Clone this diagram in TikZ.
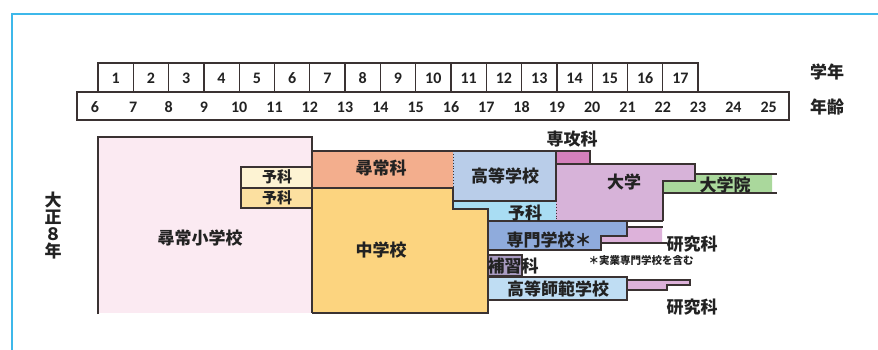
\documentclass[tikz,border=0pt]{standalone}
\usepackage{fontspec}
\newfontfamily\jp{Noto Sans CJK JP}
\newfontfamily\num{Carlito}
\usetikzlibrary{calc}
\definecolor{frameblue}{HTML}{3DB8EA}
\definecolor{linec}{HTML}{3A3232}
\definecolor{cPink}{HTML}{FBEAF2}
\definecolor{cYokaA}{HTML}{FDF3D3}
\definecolor{cYokaB}{HTML}{FCE0A0}
\definecolor{cJinjo}{HTML}{F3AE8D}
\definecolor{cChu}{HTML}{FCD47F}
\definecolor{cKoto}{HTML}{B9CDE9}
\definecolor{cYokaBlue}{HTML}{A9DDF3}
\definecolor{cDai}{HTML}{D7B3D9}
\definecolor{cSenko}{HTML}{D580BC}
\definecolor{cIn}{HTML}{AAD89C}
\definecolor{cSenmon}{HTML}{8FABDC}
\definecolor{cHoshu}{HTML}{A99BC2}
\definecolor{cShihan}{HTML}{BFDDF3}
\definecolor{cKen}{HTML}{DDB2DA}
\definecolor{txt}{HTML}{222222}
\tikzset{
  ln/.style={draw=linec,line width=1.3pt,line join=miter},
  dotln/.style={draw=linec,line width=0.9pt,dotted},
  numlbl/.style={font=\num\bfseries\fontsize{16}{16}\selectfont,text=txt,inner sep=0pt},
  jplbl/.style={font=\jp\bfseries\fontsize{17}{17}\selectfont,text=txt,inner sep=0pt},
  jpsmall/.style={font=\jp\bfseries\fontsize{15}{15}\selectfont,text=txt,inner sep=0pt},
  jptiny/.style={font=\jp\bfseries\fontsize{10.5}{10.5}\selectfont,text=txt,inner sep=0pt},
}
\begin{document}
\begin{tikzpicture}[x=1pt,y=-1pt]
\useasboundingbox (0,0) rectangle (878,350);
\fill[white] (0,0) rectangle (878,350);
% frame
\draw[frameblue,line width=2.4pt] (12,350) -- (12,14) -- (878,14);

% ---------- year / age scale ----------
\foreach \i in {1,...,17}{
  \draw[ln] ({98+35.3*(\i-1)},63) rectangle ({98+35.3*\i},92);
  \node[numlbl] (g\i) at ({98+35.3*(\i-0.5)},78) {\i};
}
\draw[ln] (77,92) rectangle (789,120);
\node[numlbl] (a6) at (95,107) {6};
\foreach \n in {7,...,25}{
  \node[numlbl] (a\n) at ({98+35.3*(\n-6)},107) {\n};
}
\node[jplbl] (gakunen) at (827,72) {学年};
\node[jplbl] (nenrei) at (827,107) {年齢};

% ---------- fills ----------
\fill[cPink] (98,137) rectangle (312,313);
\fill[cYokaA] (241,167) rectangle (312,188);
\fill[cYokaB] (241,188) rectangle (312,208);
\fill[cJinjo] (312,151) rectangle (453,188);
\fill[cChu] (312,188) -- (453,188) -- (453,209) -- (488,209) -- (488,313) -- (312,313) -- cycle;
\fill[cKoto] (453,151) rectangle (556,201);
\fill[cYokaBlue] (453,201) -- (556,201) -- (556,221) -- (488,221) -- (488,209) -- (453,209) -- cycle;
\fill[cSenko] (556,151) rectangle (590,164);
\fill[cDai] (556,164) -- (695,164) -- (695,181) -- (663,181) -- (663,221) -- (556,221) -- cycle;
\fill[cIn] (695,174) -- (772,174) -- (772,193) -- (663,193) -- (663,181) -- (695,181) -- cycle;
\fill[cSenmon] (488,221) -- (627,221) -- (627,236) -- (601,236) -- (601,250) -- (488,250) -- cycle;
\fill[cKen] (627,227) -- (662,227) -- (662,243) -- (601,243) -- (601,236) -- (627,236) -- cycle;
\fill[cHoshu] (488,255) rectangle (522,276);
\fill[cShihan] (488,277) rectangle (627,300);
\fill[cKen] (627,280) -- (690,280) -- (690,285) -- (667,285) -- (667,290) -- (627,290) -- cycle;

% ---------- lines ----------
\draw[ln] (98,314) -- (98,137) -- (312,137) -- (312,313);
\draw[ln] (241,167) rectangle (312,208);
\draw[ln] (241,188) -- (312,188);
\draw[ln] (312,151) -- (590,151) -- (590,164);
\draw[ln] (312,188) -- (453,188) -- (453,209) -- (488,209) -- (488,313) -- (312,313);
\draw[dotln] (453,151) -- (453,188);
\draw[ln] (556,151) -- (556,201);
\draw[ln] (453,201) -- (556,201);
\draw[dotln] (556,201) -- (556,221);
\draw[ln] (556,164) -- (695,164) -- (695,181) -- (663,181) -- (663,221);
\draw[ln] (488,221) -- (663,221);
\draw[ln] (695,174) -- (777,174);
\draw[ln] (663,193) -- (777,193);
\draw[ln] (627,221) -- (627,236) -- (601,236) -- (601,250) -- (488,250);
\draw[ln] (627,227) -- (663,227);
\draw[ln] (601,243) -- (667,243);
\draw[ln] (488,255) rectangle (522,276);
\draw[ln] (488,277) rectangle (627,300);
\draw[ln] (627,280) -- (690,280) -- (690,285) -- (667,285) -- (667,290) -- (627,290);

% ---------- labels ----------
\node[jplbl] (shogaku) at (200,238) {尋常小学校};
\node[jpsmall] (yokaA) at (277,177) {予科};
\node[jpsmall] (yokaB) at (277,198) {予科};
\node[jplbl] (jinjo) at (381,168) {尋常科};
\node[jplbl] (chu) at (381,250) {中学校};
\node[jplbl] (koto) at (505,176) {高等学校};
\node[jplbl] (senko) at (572,139) {専攻科};
\node[jplbl] (yokaC) at (525,213) {予科};
\node[jplbl] (dai) at (624,182) {大学};
\node[jplbl] (in) at (725,185) {大学院};
\node[jplbl] (senmon) at (549,240) {専門学校＊};
\node[jplbl] (kenA) at (692,244) {研究科};
\node[jptiny] (note) at (641,260) {＊実業専門学校を含む};
\node[jplbl] (hoshu) at (513,266) {補習科};
\node[jplbl] (shihan) at (558,289) {高等師範学校};
\node[jplbl] (kenB) at (692,307) {研究科};
\node[jplbl,align=center] (taisho) at (53,226) {大\\[0pt]正\\[0pt]８\\[0pt]年};
\end{tikzpicture}
\end{document}
